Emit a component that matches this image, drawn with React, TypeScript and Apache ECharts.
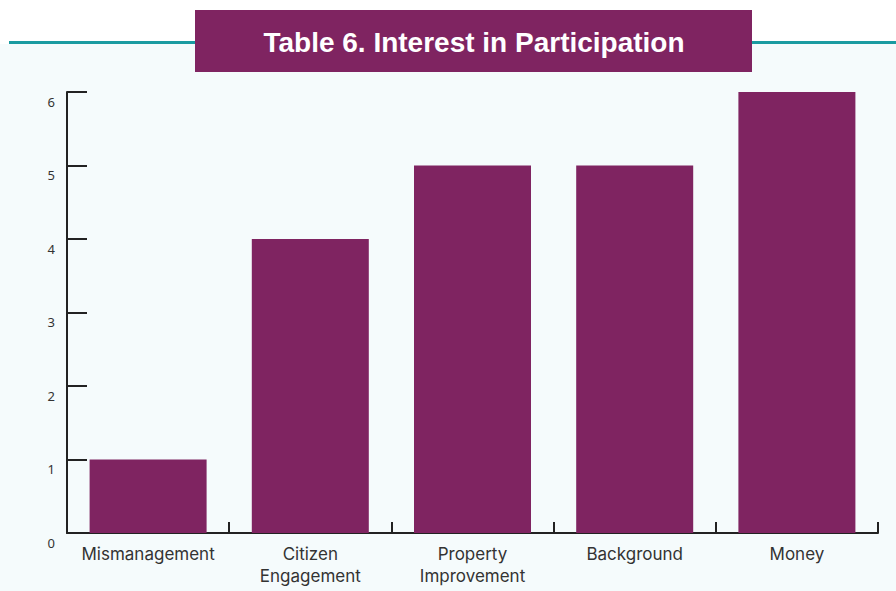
import React, { useEffect, useRef } from "react";
import * as echarts from "echarts";

const categories = ["Mismanagement", "Citizen\nEngagement", "Property\nImprovement", "Background", "Money"];
const values = [1, 4, 5, 5, 6];
const yTicks = [0, 1, 2, 3, 4, 5, 6];
const title = "Table 6. Interest in Participation";

const PURPLE = "#7f2461";
const TEAL = "#1a9ba1";
const BG = "#f5fbfc";

export default function App() {
  const ref = useRef<HTMLDivElement>(null);
  useEffect(() => {
    if (!ref.current) return;
    const chart = echarts.init(ref.current, null, { renderer: "svg" });
    chart.setOption({
      animation: false,
      backgroundColor: "#ffffff",
      graphic: [
        { type: "rect", z: -10, shape: { x: 0, y: 44, width: 896, height: 547 }, style: { fill: BG } },
        { type: "rect", z: 10, shape: { x: 9, y: 41, width: 887, height: 3 }, style: { fill: TEAL } },
        { type: "rect", z: 11, shape: { x: 195, y: 10, width: 557, height: 62 }, style: { fill: PURPLE } },
        {
          type: "text",
          z: 12,
          x: 474,
          y: 42,
          style: {
            text: title,
            fill: "#ffffff",
            font: "bold 28px 'Liberation Sans', Arial, sans-serif",
            align: "center",
            verticalAlign: "middle",
          },
        },
      ],
      grid: { left: 67, right: 18, top: 92, bottom: 58 },
      xAxis: {
        type: "category",
        data: categories,
        boundaryGap: true,
        axisLine: { show: true, lineStyle: { color: "#222", width: 2 } },
        axisTick: { show: true, inside: true, length: 11, interval: 0, lineStyle: { color: "#222", width: 2 } },
        axisLabel: {
          interval: 0,
          margin: 10,
          fontSize: 17,
          lineHeight: 22,
          color: "#333",
          fontFamily: "Inter, 'Noto Sans', sans-serif",
        },
      },
      yAxis: {
        type: "value",
        min: yTicks[0],
        max: yTicks[yTicks.length - 1],
        interval: 1,
        splitLine: { show: false },
        axisLine: { show: true, lineStyle: { color: "#222", width: 2 } },
        axisTick: { show: true, inside: true, length: 20, lineStyle: { color: "#222", width: 2 } },
        axisLabel: {
          margin: 12,
          fontSize: 13,
          color: "#333",
          fontFamily: "'Noto Sans', sans-serif",
          verticalAlign: "top",
          padding: [3, 0, 0, 0],
        },
      },
      series: [
        {
          type: "bar",
          data: values,
          barWidth: 117,
          itemStyle: { color: PURPLE },
        },
      ],
    });
    return () => chart.dispose();
  }, []);
  return <div ref={ref} style={{ position: "fixed", left: 0, top: 0, width: 896, height: 591 }} />;
}
